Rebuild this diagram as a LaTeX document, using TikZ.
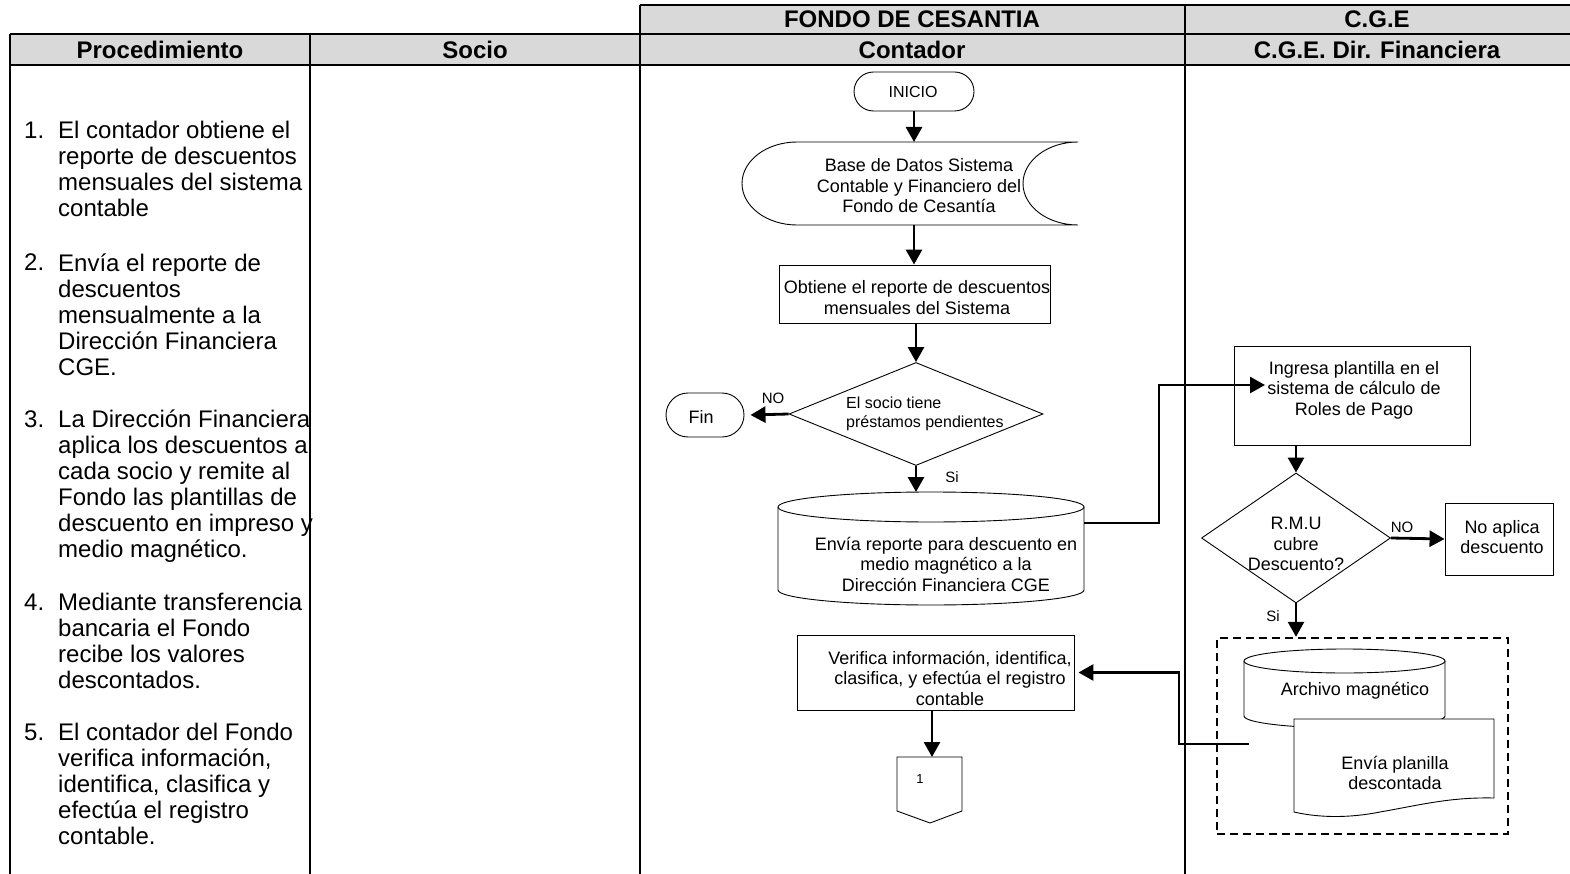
\documentclass[tikz,border=0pt]{standalone}
\usepackage{fontspec}
\setmainfont{Liberation Sans}
\usetikzlibrary{arrows.meta,shapes.geometric,shapes.misc}
\definecolor{hdrgrey}{HTML}{D9D9D9}
\begin{document}
\begin{tikzpicture}[x=1pt,y=-1pt,
  grid/.style={line width=2.6pt},
  hdrtext/.style={font=\fontsize{24}{26}\selectfont\bfseries, inner sep=0},
  listtext/.style={font=\fontsize{24}{26}\selectfont, align=left, inner sep=0, anchor=base west},
  txt/.style={font=\fontsize{18}{20.5}\selectfont, align=center, inner sep=0},
  smalltxt/.style={font=\fontsize{16}{19}\selectfont, inner sep=0},
  lbl/.style={font=\fontsize{15}{17}\selectfont, inner sep=0},
  outline/.style={draw, line width=0.9pt, fill=white},
  box/.style={outline, rectangle, inner sep=0},
  term/.style={outline, rounded rectangle, inner sep=0},
  decision/.style={outline, diamond, inner sep=0},
  flow/.style={line width=2.8pt, -{Triangle[length=15pt,width=16pt]}},
  group/.style={draw, line width=2.4pt, dash pattern=on 8pt off 5pt}
]
\useasboundingbox (0,0) rectangle (1570,874);

% ---------- table frame ----------
\fill[hdrgrey] (640,5) rectangle (1570,34);
\fill[hdrgrey] (10,34) rectangle (1570,65);
\draw[grid] (640,5) -- (1570,5);
\draw[grid] (10,34) -- (1570,34);
\draw[grid] (10,65) -- (1570,65);
\draw[grid] (10,34) -- (10,874);
\draw[grid] (310,34) -- (310,874);
\draw[grid] (640,5) -- (640,874);
\draw[grid] (1185,5) -- (1185,874);

\node[hdrtext] (hfondo) at (912,19.5) {FONDO DE CESANTIA};
\node[hdrtext] (hcge) at (1377,19.5) {C.G.E};
\node[hdrtext] (hproc) at (160,49.5) {Procedimiento};
\node[hdrtext] (hsocio) at (475,49.5) {Socio};
\node[hdrtext] (hcont) at (912,49.5) {Contador};
\node[hdrtext] (hdir) at (1377,49.5) {C.G.E. Dir. Financiera};

% ---------- procedure list (text nodes anchored at their last baseline) ----------
\node[listtext] (n1) at (24,139) {1.};
\node[listtext] (p1) at (58,217) {El contador obtiene el\\reporte de descuentos\\mensuales del sistema\\contable};
\node[listtext] (n2) at (24,271) {2.};
\node[listtext] (p2) at (58,375) {Envía el reporte de\\descuentos\\mensualmente a la\\Dirección Financiera\\CGE.};
\node[listtext] (n3) at (24,427) {3.};
\node[listtext] (p3) at (58,557) {La Dirección Financiera\\aplica los descuentos a\\cada socio y remite al\\Fondo las plantillas de\\descuento en impreso y\\medio magnético.};
\node[listtext] (n4) at (24,610) {4.};
\node[listtext] (p4) at (58,688) {Mediante transferencia\\bancaria el Fondo\\recibe los valores\\descontados.};
\node[listtext] (n5) at (24,740) {5.};
\node[listtext] (p5) at (58,844) {El contador del Fondo\\verifica información,\\identifica, clasifica y\\efectúa el registro\\contable.};

% ---------- Contador lane ----------
\node[term, minimum width=120, minimum height=39] (inicio) at (914,91.5) {};
\node[smalltxt] (iniciotxt) at (913,92) {INICIO};

% stored data shape
\draw[outline] (797,142) -- (1078,142)
  .. controls (1047.6,142) and (1023,160.6) .. (1023,183.5)
  .. controls (1023,206.4) and (1047.6,225) .. (1078,225)
  -- (797,225)
  .. controls (766.6,225) and (742,206.4) .. (742,183.5)
  .. controls (742,160.6) and (766.6,142) .. (797,142) -- cycle;
\node[txt] (dbase) at (919,186) {Base de Datos Sistema\\Contable y Financiero del\\Fondo de Cesantía};
\coordinate (db-top) at (914,142);
\coordinate (db-bot) at (914,225);

\node[box, minimum width=271, minimum height=58] (obt) at (914.5,294) {};
\node[txt] (obttxt) at (917,297.5) {Obtiene el reporte de descuentos\\mensuales del Sistema};

\node[decision, minimum width=254, minimum height=103] (dia1) at (916,414) {};
\node[smalltxt, align=left, anchor=west] (dia1txt) at (846,414) {El socio tiene\\préstamos pendientes};

\node[term, minimum width=78, minimum height=44] (fin) at (705,415) {};
\node[txt] (fintxt) at (701,417) {Fin};
\node[lbl] (no1) at (773,398) {NO};
\node[lbl] (si1) at (952,477) {Si};

% magnetic disk (cylinder)
\draw[outline] (778,507) -- (778,590)
  .. controls (778,598.3) and (846.5,605) .. (931,605)
  .. controls (1015.5,605) and (1084,598.3) .. (1084,590) -- (1084,507);
\draw[outline] (931,507) ellipse [x radius=153, y radius=15];
\node[txt] (cyl1) at (946,564) {Envía reporte para descuento en\\medio magnético a la\\Dirección Financiera CGE};
\coordinate (cyl1-top) at (916,492);
\coordinate (cyl1-right) at (1084,523);

\node[box, minimum width=277, minimum height=75] (verif) at (935.5,672.5) {};
\node[txt] (veriftxt) at (950,678) {Verifica información, identifica,\\clasifica, y efectúa el registro\\contable};

% off-page connector
\draw[outline] (897,757) -- (962,757) -- (962,811) -- (930,823) -- (897,811) -- cycle;
\node[font=\fontsize{13}{15}\selectfont, inner sep=0] (off) at (920,779) {1};
\coordinate (off-top) at (932,757);

% ---------- C.G.E. lane ----------
\node[box, minimum width=236, minimum height=99] (ing) at (1352,395.5) {};
\node[txt] (ingtxt) at (1354,390) {Ingresa plantilla en el\\sistema de cálculo de\\Roles de Pago};
\coordinate (ing-in) at (1265,385);

\node[decision, minimum width=189, minimum height=130] (dia2) at (1296,538) {};
\node[txt] (dia2txt) at (1296,544) {R.M.U\\cubre\\Descuento?};
\node[lbl] (no2) at (1402,527) {NO};
\node[lbl] (si2) at (1273,616) {Si};

\node[box, minimum width=108, minimum height=72] (noap) at (1499,539) {};
\node[txt] (noaptxt) at (1502,537) {No aplica\\descuento};

\node[group, minimum width=291, minimum height=196] (grp) at (1362.5,736) {};

\draw[outline] (1244,661) -- (1244,716)
  .. controls (1244,722.6) and (1289,728) .. (1344.5,728)
  .. controls (1400,728) and (1445,722.6) .. (1445,716) -- (1445,661);
\draw[outline] (1344.5,661) ellipse [x radius=100.5, y radius=12];
\node[txt] (cyl2) at (1355,691) {Archivo magnético};

\draw[outline] (1294,719) -- (1494,719) -- (1494,798)
  .. controls (1450,797) and (1420,805) .. (1380,812)
  .. controls (1350,818) and (1320,818) .. (1294,812) -- cycle;
\node[txt] (doc) at (1395,773) {Envía planilla\\descontada};
\coordinate (doc-left) at (1249,744);

% ---------- connectors ----------
\draw[flow] (inicio.south) -- (db-top);
\draw[flow] (db-bot) -- (db-bot |- obt.north);
\draw[flow] (dia1.north |- obt.south) -- (dia1.north);
\draw[flow] (dia1.west) -- ([xshift=6pt]fin.east);
\draw[flow] (dia1.south) -- (cyl1-top);
\draw[flow] (cyl1-right) -- ++(75,0) |- (ing-in);
\draw[flow] (dia2.north |- ing.south) -- (dia2.north);
\draw[flow] (dia2.east) -- (noap.west);
\draw[flow] (dia2.south) -- (dia2.south |- grp.north);
\draw[flow] (doc-left) -- ++(-70,0) |- ([xshift=4pt]verif.east);
\draw[flow] (off-top |- verif.south) -- (off-top);
\end{tikzpicture}
\end{document}
